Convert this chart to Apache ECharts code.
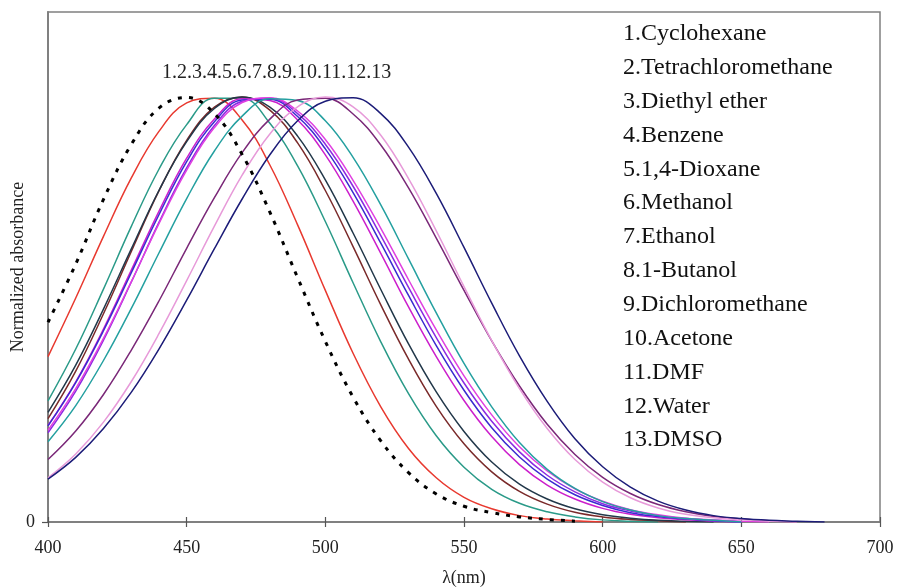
<!DOCTYPE html>
<html>
<head>
<meta charset="utf-8">
<script src="https://cdn.jsdelivr.net/npm/echarts@6/dist/echarts.min.js"></script>
<style>html,body{margin:0;padding:0;background:#fff}#c{width:897px;height:588px}</style>
</head>
<body>
<div id="c"></div>
<script>
// wavelength grid (nm)
const wavelengths = [400,410,420,430,440,450,460,470,480,490,500,510,520,530,540,550,560,570,580,590,600,610,620,630,640,650,660,670,680,690,700];
const solvents = ["1.Cyclohexane","2.Tetrachloromethane","3.Diethyl ether","4.Benzene","5.1,4-Dioxane","6.Methanol","7.Ethanol","8.1-Butanol","9.Dichloromethane","10.Acetone","11.DMF","12.Water","13.DMSO"];
const peakOrderLabel = "1.2.3.4.5.6.7.8.9.10.11.12.13";
const xTicks = [400,450,500,550,600,650,700];

// normalized absorbance
const cyclohexane = [0.47,0.607,0.759,0.888,0.974,0.999,0.961,0.865,0.729,0.575,0.425,0.294,0.191,0.116,0.066,0.037,0.022,0.012,0.006,0.002];
const tetrachloromethane = [0.389,0.527,0.672,0.809,0.919,0.986,0.997,0.946,0.840,0.699,0.545,0.397,0.271,0.173,0.104,0.058,0.031,0.015,0.007,0.003,0];
const diethylEther = [0.285,0.407,0.548,0.695,0.830,0.935,0.997,0.997,0.938,0.838,0.707,0.563,0.424,0.302,0.203,0.129,0.077,0.044,0.024,0.012,0.005,0.002,0];
const benzene = [0.243,0.355,0.490,0.636,0.779,0.898,0.976,1.0,0.969,0.892,0.780,0.648,0.511,0.383,0.272,0.184,0.118,0.072,0.042,0.023,0.012,0.006,0.003,0];
const dioxane = [0.258,0.369,0.501,0.642,0.780,0.895,0.973,1.0,0.976,0.908,0.805,0.680,0.547,0.419,0.306,0.213,0.141,0.089,0.054,0.031,0.017,0.009,0.004,0.002,0];
const methanol = [0.227,0.330,0.454,0.592,0.731,0.856,0.948,0.996,0.992,0.946,0.864,0.755,0.632,0.506,0.389,0.286,0.201,0.135,0.087,0.054,0.032,0.018,0.010,0.005,0.002,0];
const ethanol = [0.226,0.328,0.450,0.586,0.723,0.848,0.942,0.993,0.995,0.954,0.878,0.775,0.656,0.533,0.415,0.310,0.222,0.153,0.101,0.064,0.039,0.022,0.013,0.007,0.003,0];
const butanol = [0.210,0.308,0.428,0.564,0.705,0.833,0.933,0.990,0.997,0.961,0.889,0.790,0.674,0.552,0.434,0.327,0.237,0.165,0.110,0.071,0.043,0.026,0.015,0.008,0.004,0];
const dichloromethane = [0.216,0.314,0.432,0.565,0.702,0.828,0.928,0.987,0.998,0.967,0.900,0.804,0.691,0.570,0.452,0.344,0.252,0.177,0.120,0.078,0.049,0.029,0.017,0.009,0.005,0.002,0];
const acetone = [0.189,0.274,0.380,0.502,0.633,0.761,0.873,0.955,0.996,0.992,0.944,0.858,0.746,0.619,0.492,0.373,0.271,0.187,0.124,0.079,0.048,0.028,0.015,0.008,0.004,0];
const dmf = [0.147,0.214,0.300,0.404,0.520,0.644,0.763,0.869,0.948,0.993,0.997,0.960,0.887,0.786,0.668,0.545,0.426,0.320,0.230,0.159,0.105,0.067,0.041,0.024,0.013,0.007,0.003,0];
const water = [0.104,0.160,0.235,0.330,0.443,0.568,0.696,0.816,0.913,0.977,1.0,0.977,0.910,0.808,0.685,0.554,0.427,0.314,0.220,0.147,0.094,0.057,0.033,0.018,0.010,0.005,0.002,0];
const dmso = [0.101,0.152,0.220,0.305,0.407,0.522,0.643,0.760,0.864,0.944,0.990,0.998,0.961,0.882,0.773,0.646,0.515,0.391,0.284,0.196,0.130,0.082,0.049,0.028,0.015,0.008,0.004,0.002,0];

const seriesValues = [cyclohexane,tetrachloromethane,diethylEther,benzene,dioxane,methanol,ethanol,butanol,dichloromethane,acetone,dmf,water,dmso];
const colors = ['#000000','#e8392f','#2a9a88','#7a2a2a','#22384a','#cc1fcc','#3a2bd0','#8a2be2','#e040e0','#24a0a0','#7a2878','#e79ad9','#1c1c78'];

const serif = '"Liberation Serif","DejaVu Serif",serif';
const chart = echarts.init(document.getElementById('c'), null, {renderer:'canvas'});

const series = seriesValues.map((vals, i) => ({
  name: solvents[i],
  type: 'line',
  xAxisIndex: 0,
  data: vals.map((v, j) => [wavelengths[j], v]),
  smooth: 0.4,
  showSymbol: false,
  z: i === 0 ? 5 : 2,
  lineStyle: i === 0 ? {color: colors[i], width: 3, type: [4, 7]} : {color: colors[i], width: 1.5},
  itemStyle: {color: colors[i]}
}));

chart.setOption({
  animation: false,
  backgroundColor: '#fff',
  grid: {left: 48, right: 17, top: 12, bottom: 66, outerBoundsMode: 'none', containLabel: false,
    show: true, borderColor: '#808080', borderWidth: 1.5, backgroundColor: 'transparent'},
  xAxis: [{
    type: 'value', min: 400, max: 700, interval: 50,
    axisLine: {lineStyle: {color: '#808080', width: 2}},
    axisTick: {show: true, length: 5, lineStyle: {color: '#555', width: 1.2}},
    splitLine: {show: false},
    axisLabel: {color: '#222', fontFamily: serif, fontSize: 18, margin: 17,
      formatter: v => xTicks.includes(v) ? String(v) : ''},
    name: 'λ(nm)', nameLocation: 'middle', nameGap: 56, nameMoveOverlap: false,
    nameTextStyle: {color: '#222', fontFamily: serif, fontSize: 18, verticalAlign: 'middle'}
  },{
    type: 'value', min: 400, max: 700, interval: 50, position: 'bottom',
    axisLine: {show: false},
    axisTick: {show: true, inside: true, length: 5, lineStyle: {color: '#555', width: 1.2}},
    axisLabel: {show: false}, splitLine: {show: false}
  }],
  yAxis: {
    type: 'value', min: 0, max: 1.2, interval: 1.2,
    axisLine: {show: true, lineStyle: {color: '#808080', width: 2}},
    axisTick: {show: true, length: 6, customValues: [0], lineStyle: {color: '#555', width: 1.2}},
    splitLine: {show: false},
    axisLabel: {color: '#222', fontFamily: serif, fontSize: 18, margin: 13, customValues: [0],
      formatter: v => v === 0 ? '0' : ''},
    name: 'Normalized absorbance', nameLocation: 'middle', nameGap: 30, nameMoveOverlap: false,
    nameTextStyle: {color: '#222', fontFamily: serif, fontSize: 18, verticalAlign: 'middle'}
  },
  graphic: [
    {type: 'text', left: 162, top: 63, style: {text: peakOrderLabel, font: '20px ' + serif, fill: '#222'}},
    {type: 'text', left: 623, top: 17, style: {text: solvents.join('\n'), font: '24px ' + serif, fill: '#111', lineHeight: 33.85}}
  ],
  series: series
});
</script>
</body>
</html>
